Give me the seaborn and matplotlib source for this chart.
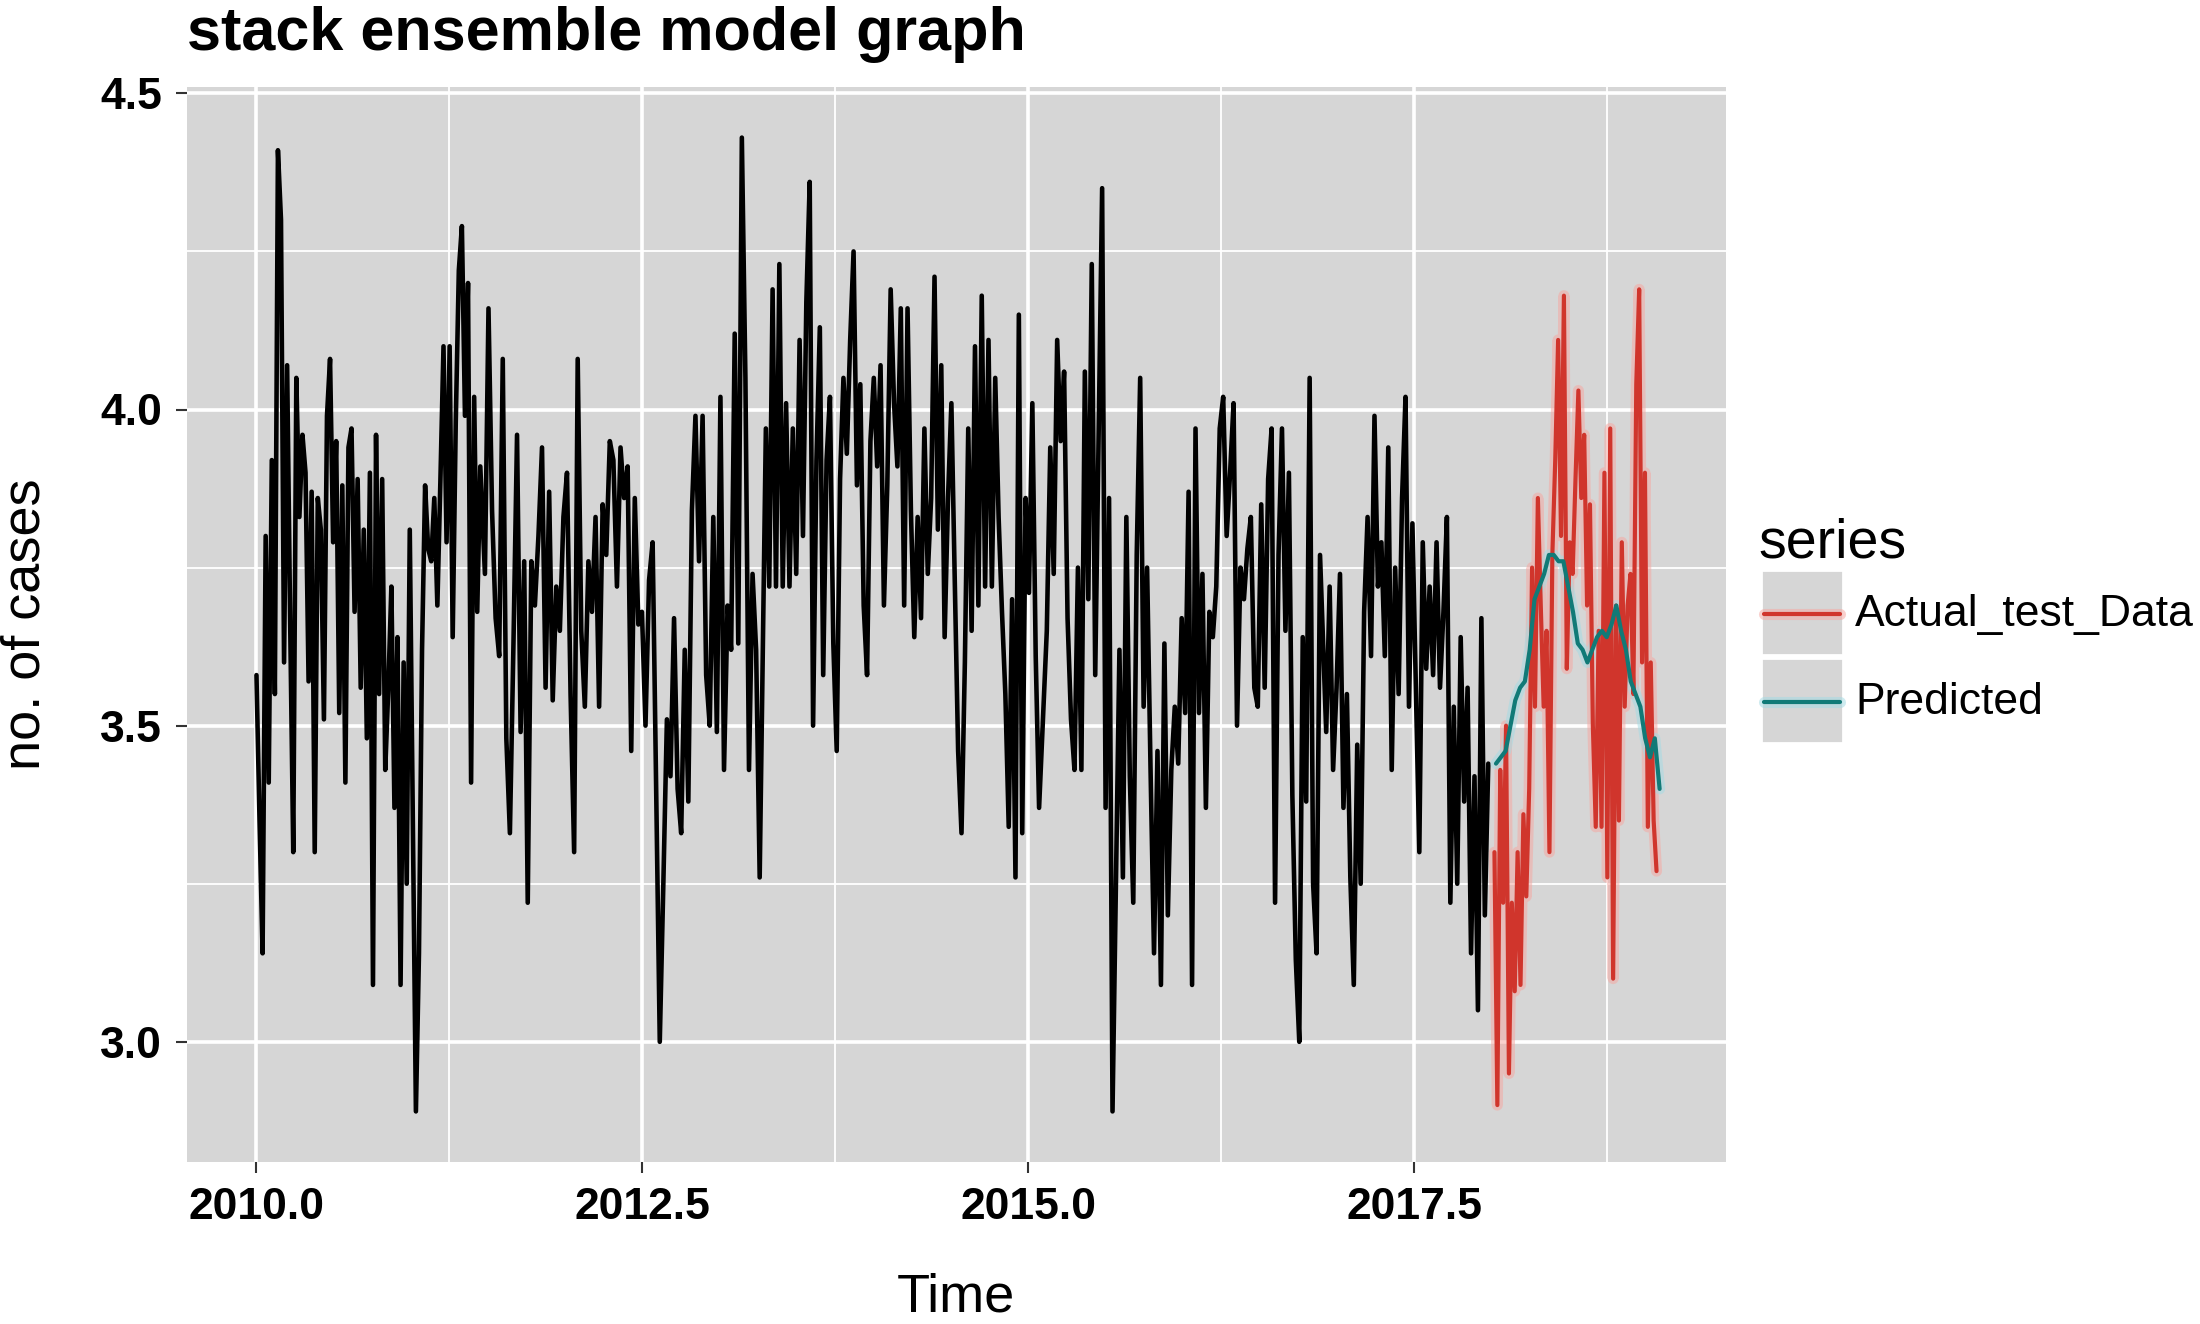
import numpy as np
import pandas as pd
import matplotlib.pyplot as plt
import matplotlib.lines as mlines
import matplotlib.patches as mpatches
import seaborn as sns

# training data, weekly in chunks
train_2010 = [3.58, 3.35, 3.14, 3.80, 3.41, 3.92, 3.55, 4.41, 4.30, 3.60,
              4.07, 3.66, 3.30, 4.05, 3.83, 3.96, 3.90, 3.57, 3.87, 3.30,
              3.86, 3.81, 3.51, 3.99, 4.08, 3.79, 3.95, 3.52, 3.88, 3.41,
              3.94, 3.97, 3.68, 3.89, 3.56, 3.81, 3.48, 3.90, 3.09, 3.96,
              3.55, 3.89, 3.43, 3.56, 3.72, 3.37, 3.64, 3.09, 3.60, 3.25,
              3.81, 3.35, 2.89, 3.14, 3.62, 3.88, 3.78, 3.76, 3.86, 3.69,
              3.89, 4.10, 3.79, 4.10, 3.64, 3.98, 4.22, 4.29, 3.99, 4.20,
              3.41, 4.02, 3.68, 3.91]
train_2011 = [3.74, 4.16, 3.84, 3.67, 3.61, 4.08, 3.48, 3.33, 3.63, 3.96,
              3.49, 3.76, 3.22, 3.76, 3.69, 3.80, 3.94, 3.56, 3.87, 3.54,
              3.72, 3.65, 3.83, 3.90, 3.55, 3.30, 4.08, 3.65, 3.53, 3.76,
              3.68, 3.83, 3.53, 3.85, 3.77, 3.95, 3.92, 3.72, 3.94, 3.86,
              3.91, 3.46, 3.86, 3.66, 3.68, 3.50, 3.73, 3.79, 3.40, 3.00,
              3.25, 3.51, 3.42, 3.67, 3.40, 3.33, 3.62, 3.38, 3.84, 3.99,
              3.76, 3.99, 3.58, 3.50, 3.83, 3.49, 4.02, 3.43, 3.69, 3.62,
              4.12, 3.63, 4.43, 4.05, 3.43, 3.74, 3.62, 3.26]
train_2013 = [3.97, 3.72, 4.19, 3.72, 4.23, 3.72, 4.01, 3.72, 3.97, 3.74,
              4.11, 3.80, 4.17, 4.36, 3.50, 3.92, 4.13, 3.58, 3.92, 4.02,
              3.63, 3.46, 3.89, 4.05, 3.93, 4.11, 4.25, 3.88, 4.04, 3.69,
              3.58, 3.95, 4.05, 3.91, 4.07, 3.69, 3.88, 4.19, 4.01, 3.91,
              4.16, 3.69, 4.16, 3.84, 3.64, 3.83, 3.67, 3.97, 3.74, 3.86,
              4.21, 3.81, 4.07, 3.64, 3.86, 4.01, 3.73, 3.46, 3.33, 3.60,
              3.97, 3.65, 4.10, 3.69, 4.18, 3.72, 4.11, 3.72, 4.05, 3.83,
              3.68, 3.55, 3.34, 3.70, 3.26, 4.15, 3.33, 3.86, 3.71, 4.01,
              3.61, 3.37]
train_2015 = [3.65, 3.94, 3.74, 4.11, 3.95, 4.06, 3.67, 3.51, 3.43, 3.75,
              3.43, 4.06, 3.70, 4.23, 3.58, 3.96, 4.35, 3.37, 3.86, 2.89,
              3.26, 3.62, 3.26, 3.83, 3.42, 3.22, 3.77, 4.05, 3.53, 3.75,
              3.43, 3.14, 3.46, 3.09, 3.63, 3.20, 3.43, 3.53, 3.44, 3.67,
              3.52, 3.87, 3.09, 3.97, 3.52, 3.74, 3.37, 3.68, 3.64, 3.72,
              3.97, 4.02, 3.80, 3.90, 4.01, 3.50, 3.75, 3.70, 3.78, 3.83,
              3.56, 3.53, 3.85, 3.56, 3.89, 3.97, 3.22, 3.77, 3.97, 3.65,
              3.90, 3.39, 3.13, 3.00, 3.64, 3.38, 4.05, 3.25, 3.14, 3.77]
train_2017 = [3.49, 3.72, 3.43, 3.56, 3.74, 3.37, 3.55, 3.26, 3.09, 3.47,
              3.25, 3.68, 3.83, 3.61, 3.99, 3.72, 3.79, 3.61, 3.94, 3.43,
              3.75, 3.55, 3.86, 4.02, 3.53, 3.82, 3.56, 3.30, 3.79, 3.59,
              3.72, 3.58, 3.79, 3.56, 3.68, 3.83, 3.22, 3.53, 3.25, 3.64,
              3.38, 3.56, 3.14, 3.42, 3.05, 3.67, 3.20, 3.44]
train_chunks = [train_2010, train_2011, train_2013, train_2015, train_2017]
train_spans = [(2010.0, 2011.45), (2011.48, 2013.26), (2013.30, 2015.07),
               (2015.12, 2016.89), (2016.93, 2017.98)]

actual_test = [3.30, 2.90, 3.43, 3.22, 3.50, 2.95, 3.22, 3.08, 3.30, 3.09,
               3.36, 3.23, 3.40, 3.75, 3.53, 3.86, 3.69, 3.53, 3.65, 3.30,
               3.77, 3.92, 4.11, 3.80, 4.18, 3.59, 3.79, 3.74, 3.89, 4.03,
               3.86, 3.96, 3.69, 3.85, 3.50, 3.34, 3.65, 3.34, 3.90, 3.26,
               3.97, 3.10, 3.69, 3.35, 3.79, 3.53, 3.69, 3.74, 3.55, 4.04,
               4.19, 3.60, 3.90, 3.34, 3.60, 3.35, 3.27]
actual_span = (2018.02, 2019.07)
predicted = [3.44, 3.45, 3.46, 3.50, 3.54, 3.56, 3.57, 3.62, 3.70, 3.72,
             3.74, 3.77, 3.77, 3.76, 3.76, 3.72, 3.68, 3.63, 3.62, 3.60,
             3.62, 3.64, 3.65, 3.64, 3.66, 3.69, 3.65, 3.62, 3.57, 3.55,
             3.53, 3.48, 3.45, 3.48, 3.40]
pred_span = (2018.03, 2019.09)

x_major = [2010.0, 2012.5, 2015.0, 2017.5]
x_minor = [2011.25, 2013.75, 2016.25, 2018.75]
y_major = [3.0, 3.5, 4.0, 4.5]
y_minor = [3.25, 3.75, 4.25]
series_names = ['Actual_test_Data', 'Predicted']
series_colors = ['#d0352c', '#117a77']
halo_colors = ['#f5aaa4', '#a6dbe3']

train = pd.DataFrame({
    'time': np.concatenate([np.linspace(a, b, len(v)) for (a, b), v in zip(train_spans, train_chunks)]),
    'cases': np.concatenate(train_chunks),
})
test = pd.concat([
    pd.DataFrame({'time': np.linspace(*actual_span, len(actual_test)), 'cases': actual_test,
                  'series': series_names[0]}),
    pd.DataFrame({'time': np.linspace(*pred_span, len(predicted)), 'cases': predicted,
                  'series': series_names[1]}),
])

sns.set_style('darkgrid', {'axes.facecolor': '#d6d6d6', 'grid.color': 'white'})
plt.rcParams['font.family'] = ['Liberation Sans', 'DejaVu Sans']
plt.rcParams['text.color'] = 'black'

W, H = 2200, 1324
fig = plt.figure(figsize=(W / 100, H / 100), dpi=100)
ax = fig.add_axes([187 / W, 1 - 1162 / H, (1726 - 187) / W, (1162 - 87) / H])

sns.lineplot(data=train, x='time', y='cases', color='black', lw=3.3, ax=ax, zorder=3)
pal = dict(zip(series_names, halo_colors))
sns.lineplot(data=test, x='time', y='cases', hue='series', palette=pal, lw=8, alpha=0.55,
             legend=False, ax=ax, zorder=4)
sns.lineplot(data=test, x='time', y='cases', hue='series', palette=dict(zip(series_names, series_colors)),
             lw=3.0, legend=False, ax=ax, zorder=5)

ax.set_xlim(2009.55, 2019.52)
ax.set_ylim(2.81, 4.51)
ax.set_xticks(x_major)
ax.set_xticks(x_minor, minor=True)
ax.set_yticks(y_major)
ax.set_yticks(y_minor, minor=True)
ax.set_xticklabels([f'{v:.1f}' for v in x_major])
ax.set_yticklabels([f'{v:.1f}' for v in y_major])
ax.grid(which='major', color='white', lw=2.6)
ax.grid(which='minor', color='white', lw=1.3)
ax.tick_params(which='major', length=8, width=1.5, color='#333333', pad=10,
               labelsize=32, labelcolor='black', bottom=True, left=True)
ax.tick_params(which='minor', length=0)
for lab in ax.get_xticklabels() + ax.get_yticklabels():
    lab.set_fontweight('bold')
for s in ax.spines.values():
    s.set_visible(False)
ax.set_xlabel('')
ax.set_ylabel('')

fig.text(187 / W, 1 - 50 / H, 'stack ensemble model graph', fontsize=44, fontweight='bold',
         ha='left', va='baseline')
fig.text(956 / W, 1 - 1322 / H, 'Time', fontsize=39, ha='center', va='bottom')
fig.text(26 / W, 1 - 624 / H, 'no. of cases', fontsize=39, rotation=90, ha='center', va='center')

# legend drawn by hand, ggplot style keys
fig.text(1758 / W, 1 - 557 / H, 'series', fontsize=40, ha='left', va='baseline')
for i, (name, col, halo) in enumerate(zip(series_names, series_colors, halo_colors)):
    top = 570 + i * 88
    fig.add_artist(mpatches.Rectangle((1761 / W, 1 - (top + 85) / H), 82 / W, 85 / H,
                                      transform=fig.transFigure, facecolor='#d6d6d6',
                                      edgecolor='white', lw=2))
    yc = 1 - (top + 44) / H
    fig.add_artist(mlines.Line2D([1764 / W, 1840 / W], [yc, yc], transform=fig.transFigure,
                                 color=halo, lw=8, alpha=0.55))
    fig.add_artist(mlines.Line2D([1764 / W, 1840 / W], [yc, yc], transform=fig.transFigure,
                                 color=col, lw=3.0))
    fig.text(1855 / W, yc, name, fontsize=32, ha='left', va='center')

fig.savefig('out.png', dpi=100)
